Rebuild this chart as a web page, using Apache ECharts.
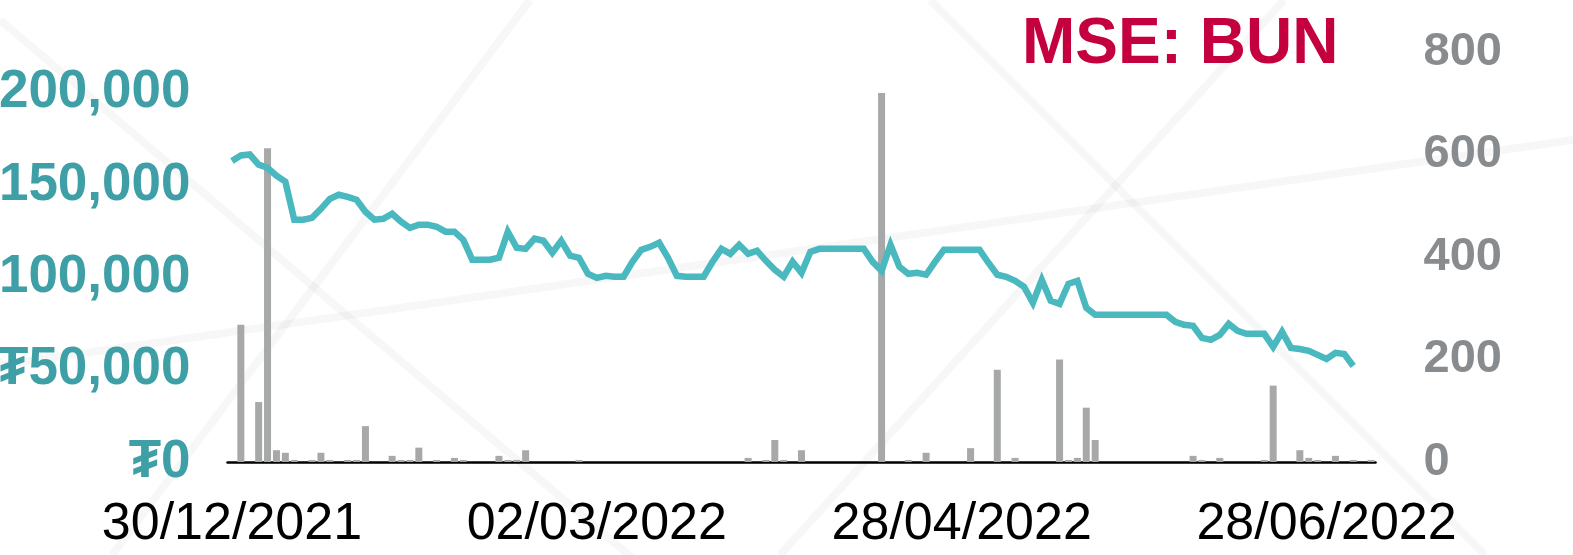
<!DOCTYPE html>
<html>
<head>
<meta charset="utf-8">
<title>MSE: BUN</title>
<script src="https://cdn.jsdelivr.net/npm/echarts@6/dist/echarts.min.js"></script>
<style>
  html, body { margin: 0; padding: 0; background: #fff; }
  #chart { width: 1573px; height: 555px; }
</style>
</head>
<body>
<div id="chart"></div>
<script>
// closing price, MNT (one value per trading day)
const price = [
  163000, 166000, 166500, 161000, 159300, 155000, 151800, 131200, 131200, 132200,
  137100, 142500, 144700, 143600, 142000, 135500, 131200, 131700, 134400, 130100,
  126800, 128500, 128500, 127400, 124700, 124700, 120300, 109500, 109500, 109500,
  110600, 124700, 116000, 115400, 120900, 119800, 113300, 119800, 111700, 110600,
  101900, 99700, 100800, 100300, 100300, 108400, 114900, 116500, 118700, 110600,
  100800, 100300, 100300, 100300, 108400, 115400, 112700, 117600, 112700, 114400,
  108900, 104100, 100300, 108400, 102400, 113800, 115400, 115400, 115400, 115400,
  115400, 115400, 108400, 103500, 117600, 105700, 101900, 102400, 101400, 108400,
  114900, 114900, 114900, 114900, 114900, 107900, 101400, 100300, 98100, 94900,
  86200, 98600, 87300, 85600, 96500, 98100, 83500, 79700, 79700, 79700,
  79700, 79700, 79700, 79700, 79700, 79700, 75900, 74300, 73700, 67200,
  66100, 68800, 74800, 71000, 69400, 69400, 69400, 62300, 70500, 61800,
  61200, 60200, 58000, 55800, 59100, 58500, 52000
];

// traded volume (shares)
const volume = [
  0, 268, 0, 117, 612, 23, 18, 4, 0, 4,
  18, 4, 0, 4, 4, 70, 0, 0, 12, 4,
  4, 28, 0, 4, 0, 8, 4, 0, 0, 0,
  12, 4, 4, 23, 0, 0, 0, 0, 0, 4,
  0, 0, 0, 0, 0, 0, 0, 0, 0, 0,
  0, 0, 0, 0, 0, 0, 0, 0, 8, 0,
  4, 43, 4, 0, 23, 0, 0, 0, 0, 0,
  0, 0, 0, 720, 0, 0, 4, 0, 18, 0,
  0, 0, 0, 27, 0, 0, 180, 0, 8, 0,
  0, 0, 0, 200, 4, 8, 106, 43, 0, 0,
  0, 0, 0, 0, 0, 0, 0, 0, 12, 4,
  0, 8, 0, 0, 0, 0, 4, 149, 0, 0,
  23, 8, 4, 0, 12, 0, 4, 0, 4
];

const tickLabels = ['30/12/2021', '02/03/2022', '28/04/2022', '28/06/2022'];
const labelStep = 41;
const priceTicks = [0, 50000, 100000, 150000, 200000];
const volumeTicks = [0, 200, 400, 600, 800];

const categories = volume.map((v, i) => (i % labelStep === 0 ? tickLabels[i / labelStep] : 'd' + i));

const chart = echarts.init(document.getElementById('chart'));

// faint texture strokes in the background
const texture = [
  [0, 20, 650, 573],
  [112, 555, 530, 0],
  [0, 365, 1573, 140],
  [930, 0, 1485, 555],
  [780, 555, 1284, 0]
].map(s => ({
  type: 'line',
  silent: true,
  z: -10,
  shape: { x1: s[0], y1: s[1], x2: s[2], y2: s[3] },
  style: { stroke: 'rgba(0,0,0,0.03)', lineWidth: 8 }
}));

const option = {
  backgroundColor: '#ffffff',
  animation: false,
  graphic: texture.concat([
    {
      type: 'text',
      left: 1022,
      top: 13,
      z: 10,
      style: {
        text: 'MSE: BUN',
        fill: '#c4003e',
        font: 'bold 64px "Liberation Sans", Arial, sans-serif'
      }
    }
  ]),
  grid: {
    left: 227.5,
    right: 197.5,
    top: 52,
    bottom: 93,
    containLabel: false,
    outerBoundsMode: 'none'
  },
  xAxis: {
    type: 'category',
    data: categories,
    boundaryGap: true,
    axisLine: { lineStyle: { color: '#000', width: 2.5 } },
    axisTick: { show: false },
    axisLabel: {
      interval: labelStep - 1,
      margin: 37,
      color: '#000',
      fontSize: 52,
      fontFamily: '"Liberation Sans", Arial, sans-serif'
    },
    splitLine: { show: false }
  },
  yAxis: [
    {
      type: 'value',
      min: priceTicks[0],
      max: 222000,
      interval: priceTicks[1] - priceTicks[0],
      axisLine: { show: false },
      axisTick: { show: false },
      splitLine: { show: false },
      axisLabel: {
        showMaxLabel: false,
        margin: 37,
        color: '#3e9fa6',
        fontSize: 53,
        fontWeight: 'bold',
        fontFamily: '"Liberation Sans", Arial, sans-serif',
        formatter: v => '₮' + v.toLocaleString('en-US')
      }
    },
    {
      type: 'value',
      position: 'right',
      min: volumeTicks[0],
      max: volumeTicks[volumeTicks.length - 1],
      interval: volumeTicks[1] - volumeTicks[0],
      axisLine: { show: false },
      axisTick: { show: false },
      splitLine: { show: false },
      axisLabel: {
        margin: 48,
        color: '#898c8e',
        fontSize: 47,
        fontWeight: 'bold',
        fontFamily: '"Liberation Sans", Arial, sans-serif'
      }
    }
  ],
  series: [
    {
      name: 'Volume',
      type: 'bar',
      yAxisIndex: 1,
      data: volume,
      barWidth: 7,
      itemStyle: { color: '#a7a9a8' },
      z: 2
    },
    {
      name: 'Price',
      type: 'line',
      yAxisIndex: 0,
      data: price,
      showSymbol: false,
      symbol: 'none',
      lineStyle: { color: '#4ab8bf', width: 6.5, join: 'miter' },
      z: 3
    }
  ]
};

chart.setOption(option);
</script>
</body>
</html>
